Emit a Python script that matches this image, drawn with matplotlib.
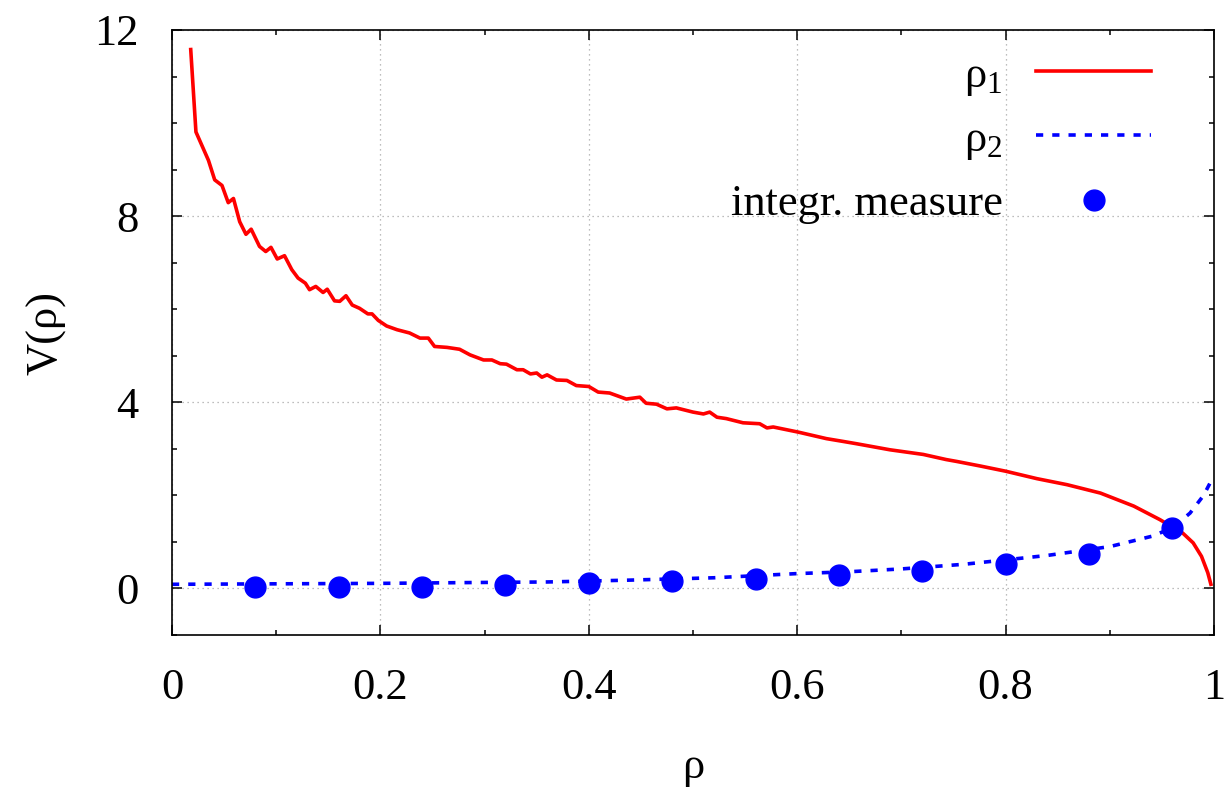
import numpy as np
import matplotlib
matplotlib.use("Agg")
import matplotlib.pyplot as plt
from matplotlib.ticker import MultipleLocator

plt.rcParams['font.family'] = ['Liberation Serif', 'DejaVu Serif']
plt.rcParams['mathtext.fontset'] = 'custom'
plt.rcParams['mathtext.rm'] = 'Liberation Serif'
plt.rcParams['mathtext.it'] = 'Liberation Serif'

# rho_1 curve
rho1_x = [0.018, 0.023, 0.035, 0.041, 0.048, 0.054, 0.059, 0.065, 0.071, 0.076,
          0.084, 0.090, 0.095, 0.101, 0.108, 0.115, 0.121, 0.128, 0.132, 0.138,
          0.145, 0.149, 0.156, 0.161, 0.167, 0.173, 0.180, 0.188, 0.192, 0.198,
          0.206, 0.216, 0.228, 0.238, 0.246, 0.252, 0.264, 0.276, 0.286, 0.299,
          0.307, 0.315, 0.321, 0.331, 0.337, 0.344, 0.350, 0.355, 0.360, 0.369,
          0.379, 0.388, 0.400, 0.409, 0.420, 0.436, 0.449, 0.455, 0.465, 0.475,
          0.484, 0.500, 0.510, 0.516, 0.523, 0.532, 0.548, 0.564, 0.571, 0.577,
          0.601, 0.628, 0.644, 0.657, 0.689, 0.721, 0.743, 0.753, 0.776, 0.800,
          0.830, 0.859, 0.891, 0.923, 0.948, 0.970, 0.980, 0.988, 0.994, 0.997]
rho1_y = [11.58, 9.81, 9.20, 8.78, 8.66, 8.29, 8.38, 7.88, 7.61, 7.72,
          7.35, 7.24, 7.33, 7.08, 7.15, 6.85, 6.67, 6.56, 6.42, 6.49,
          6.36, 6.43, 6.18, 6.17, 6.29, 6.09, 6.02, 5.90, 5.90, 5.76,
          5.64, 5.56, 5.49, 5.38, 5.38, 5.20, 5.18, 5.14, 5.02, 4.91,
          4.91, 4.83, 4.82, 4.70, 4.70, 4.61, 4.63, 4.54, 4.59, 4.48,
          4.47, 4.36, 4.34, 4.22, 4.20, 4.07, 4.11, 3.98, 3.96, 3.86,
          3.88, 3.79, 3.75, 3.79, 3.68, 3.65, 3.56, 3.54, 3.45, 3.47,
          3.36, 3.22, 3.16, 3.11, 2.98, 2.88, 2.77, 2.73, 2.63, 2.52,
          2.36, 2.23, 2.05, 1.77, 1.48, 1.19, 0.98, 0.69, 0.34, 0.09]

# rho_2 curve
rho2_x = [0.0, 0.1, 0.2, 0.3, 0.36, 0.44, 0.52, 0.60, 0.65, 0.70, 0.76, 0.84,
          0.90, 0.94, 0.96, 0.977, 0.99, 0.997]
rho2_y = [0.09, 0.10, 0.11, 0.13, 0.14, 0.18, 0.23, 0.32, 0.36, 0.42, 0.52, 0.71,
          0.90, 1.12, 1.30, 1.62, 2.00, 2.30]

# integration measure points
meas_x = [0.08, 0.16, 0.24, 0.32, 0.40, 0.48, 0.56, 0.64, 0.72, 0.80, 0.88, 0.96]
meas_y = [0.03, 0.03, 0.04, 0.065, 0.11, 0.16, 0.21, 0.28, 0.37, 0.53, 0.75, 1.29]

fs = 32
fig = plt.figure(figsize=(12.31, 8.02), dpi=100)
ax = fig.add_axes([0.1397, 0.2082, 0.8465, 0.7544])

ax.plot(rho1_x, rho1_y, color='#ff0000', lw=2.6, label=r'ρ$_1$')
ax.plot(rho2_x, rho2_y, color='#0000ff', lw=2.6, dashes=(2.0, 2.5), label=r'ρ$_2$')
ax.plot(meas_x, meas_y, 'o', color='#0000ff', ms=15, label='integr. measure')

ax.set_xlim(0, 1)
ax.set_ylim(-1, 12)
ax.xaxis.set_minor_locator(MultipleLocator(0.1))
ax.yaxis.set_minor_locator(MultipleLocator(1))
ax.set_xticks([0, 0.2, 0.4, 0.6, 0.8, 1.0])
ax.set_xticklabels(['0', '0.2', '0.4', '0.6', '0.8', '1'])
ax.set_yticks([0, 4, 8, 12])
ax.set_yticklabels(['0', '4', '8', '12'])

ax.tick_params(which='both', direction='in', top=True, right=True, labelsize=fs)
ax.tick_params(which='major', length=7, width=1.1)
ax.tick_params(which='minor', length=3.6, width=1.1)
ax.tick_params(axis='x', pad=24)
ax.tick_params(axis='y', pad=24)
for s in ax.spines.values():
    s.set_linewidth(1.2)

ax.grid(which='major', color='#a8a8a8', lw=0.9, linestyle=(0, (1, 3)))

ax.set_xlabel('ρ', fontsize=fs, labelpad=28)
ax.set_ylabel('V(ρ)', fontsize=fs, labelpad=20)

leg = ax.legend(loc='upper right', bbox_to_anchor=(0.94, 0.958), frameon=False,
                markerfirst=False, fontsize=fs, handlelength=2.6,
                handletextpad=0.75, labelspacing=0.5, borderpad=0,
                borderaxespad=0)

fig.savefig('out.png', dpi=100)
